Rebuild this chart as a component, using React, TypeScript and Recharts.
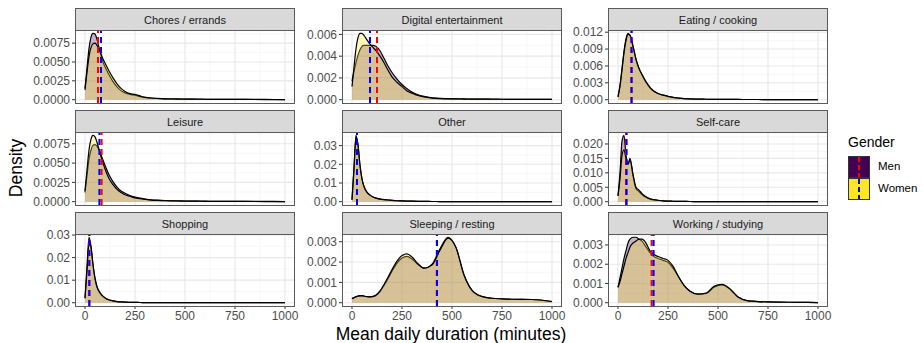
import { ComposedChart, Area, XAxis, YAxis, CartesianGrid, ReferenceLine } from 'recharts';

const categories = [
  'Chores / errands', 'Digital entertainment', 'Eating / cooking',
  'Leisure', 'Other', 'Self-care',
  'Shopping', 'Sleeping / resting', 'Working / studying',
];

// sample points (minutes) the densities were read at
const minutes = [0, 10, 20, 30, 40, 50, 60, 75, 90, 105, 120, 140, 160, 180, 200, 225, 250, 275, 300, 330, 360, 400, 440, 480, 520, 560, 600, 650, 700, 750, 800, 900, 1000];

const choresMen = [0.0015, 0.0042, 0.0068, 0.0083, 0.0088, 0.0087, 0.0080, 0.0064, 0.0050, 0.0041, 0.0033, 0.0024, 0.0017, 0.0012, 0.0009, 0.0007, 0.0006, 0.0004, 0.0003, 0.00022, 0.00017, 0.00012, 0.0001, 0.00009, 0.00008, 0.00007, 0.00006, 0.00005, 0.00004, 0.00004, 0.00003, 0.00003, 0.00002];
const choresWomen = [0.0013, 0.0036, 0.0057, 0.0069, 0.0074, 0.0075, 0.0072, 0.0064, 0.0054, 0.0046, 0.0038, 0.0029, 0.0021, 0.0015, 0.0011, 0.0008, 0.0007, 0.0005, 0.0003, 0.00022, 0.00016, 0.00011, 0.00009, 0.00008, 0.00007, 0.00006, 0.00005, 0.00004, 0.00004, 0.00003, 0.00003, 0.00002, 0.00002];
const digitalMen = [0.0017, 0.0026, 0.0034, 0.0041, 0.0046, 0.0049, 0.0050, 0.0050, 0.0050, 0.0050, 0.0049, 0.0045, 0.0038, 0.0031, 0.0025, 0.0019, 0.0014, 0.0010, 0.0007, 0.00045, 0.0003, 0.00018, 0.00012, 0.0001, 0.00008, 0.00007, 0.00006, 0.00005, 0.00005, 0.00004, 0.00004, 0.00003, 0.00002];
const digitalWomen = [0.0012, 0.0030, 0.0047, 0.0057, 0.0061, 0.0061, 0.0059, 0.0055, 0.0051, 0.0048, 0.0045, 0.0040, 0.0034, 0.0027, 0.0021, 0.0016, 0.0012, 0.0008, 0.0006, 0.00038, 0.00025, 0.00015, 0.0001, 0.00008, 0.00007, 0.00006, 0.00005, 0.00005, 0.00004, 0.00004, 0.00003, 0.00003, 0.00002];
const eatingMen = [0.0005, 0.0025, 0.0055, 0.0086, 0.0108, 0.0118, 0.0114, 0.0094, 0.0071, 0.0055, 0.0044, 0.0031, 0.0021, 0.0015, 0.0011, 0.0008, 0.0006, 0.0004, 0.0003, 0.0002, 0.00015, 0.0001, 0.00008, 0.00006, 0.00005, 0.00004, 0.00004, 0.00003, 0.00003, 0.00002, 0.00002, 0.00002, 0.00001];
const eatingWomen = [0.0005, 0.0024, 0.0053, 0.0083, 0.0105, 0.0116, 0.0115, 0.0096, 0.0072, 0.0056, 0.0045, 0.0032, 0.0022, 0.0015, 0.0011, 0.0008, 0.0006, 0.0004, 0.0003, 0.0002, 0.00015, 0.0001, 0.00008, 0.00006, 0.00005, 0.00004, 0.00004, 0.00003, 0.00003, 0.00002, 0.00002, 0.00002, 0.00001];
const leisureMen = [0.0012, 0.0034, 0.0055, 0.0067, 0.0073, 0.0074, 0.0072, 0.0064, 0.0054, 0.0044, 0.0035, 0.0026, 0.0019, 0.0014, 0.0011, 0.0008, 0.0006, 0.00045, 0.00035, 0.00025, 0.0002, 0.00015, 0.00012, 0.0001, 0.00008, 0.00007, 0.00006, 0.00005, 0.00004, 0.00004, 0.00003, 0.00003, 0.00002];
const leisureWomen = [0.0014, 0.0041, 0.0067, 0.0081, 0.0086, 0.0084, 0.0077, 0.0063, 0.0050, 0.0039, 0.0030, 0.0022, 0.0016, 0.0012, 0.0009, 0.0007, 0.0005, 0.0004, 0.0003, 0.0002, 0.00016, 0.00012, 0.0001, 0.00008, 0.00007, 0.00006, 0.00005, 0.00004, 0.00004, 0.00003, 0.00003, 0.00002, 0.00002];
const otherMen = [0.0010, 0.0180, 0.0355, 0.0300, 0.0190, 0.0120, 0.0080, 0.0050, 0.0035, 0.0025, 0.0019, 0.0014, 0.0011, 0.0009, 0.0007, 0.0005, 0.0004, 0.0003, 0.00025, 0.0002, 0.00015, 0.0001, 0.00008, 0.00007, 0.00006, 0.00005, 0.00004, 0.00004, 0.00003, 0.00003, 0.00002, 0.00002, 0.00001];
const otherWomen = [0.0010, 0.0175, 0.0345, 0.0305, 0.0195, 0.0122, 0.0081, 0.0050, 0.0035, 0.0025, 0.0019, 0.0014, 0.0011, 0.0009, 0.0007, 0.0005, 0.0004, 0.0003, 0.00025, 0.0002, 0.00015, 0.0001, 0.00008, 0.00007, 0.00006, 0.00005, 0.00004, 0.00004, 0.00003, 0.00003, 0.00002, 0.00002, 0.00001];
const selfCareMen = [0.0020, 0.0100, 0.0210, 0.0230, 0.0160, 0.0130, 0.0150, 0.0090, 0.0045, 0.0035, 0.0025, 0.0015, 0.0009, 0.0006, 0.0004, 0.0003, 0.0002, 0.00015, 0.0001, 0.00008, 0.00006, 0.00005, 0.00004, 0.00003, 0.00003, 0.00002, 0.00002, 0.00002, 0.00001, 0.00001, 0.00001, 0.00001, 0.00001];
const selfCareWomen = [0.0020, 0.0080, 0.0160, 0.0180, 0.0150, 0.0130, 0.0145, 0.0095, 0.0050, 0.0040, 0.0028, 0.0017, 0.0010, 0.0007, 0.0005, 0.0003, 0.0002, 0.00015, 0.0001, 0.00008, 0.00006, 0.00005, 0.00004, 0.00003, 0.00003, 0.00002, 0.00002, 0.00002, 0.00001, 0.00001, 0.00001, 0.00001, 0.00001];
const shoppingMen = [0.0020, 0.0160, 0.0290, 0.0250, 0.0165, 0.0105, 0.0068, 0.0042, 0.0027, 0.0018, 0.0012, 0.0008, 0.0005, 0.00035, 0.00025, 0.00018, 0.00013, 0.0001, 0.00008, 0.00006, 0.00005, 0.00004, 0.00003, 0.00003, 0.00002, 0.00002, 0.00002, 0.00001, 0.00001, 0.00001, 0.00001, 0.00001, 0.00001];
const shoppingWomen = [0.0020, 0.0140, 0.0265, 0.0245, 0.0170, 0.0110, 0.0072, 0.0045, 0.0029, 0.0019, 0.0013, 0.0008, 0.0005, 0.00035, 0.00025, 0.00018, 0.00013, 0.0001, 0.00008, 0.00006, 0.00005, 0.00004, 0.00003, 0.00003, 0.00002, 0.00002, 0.00002, 0.00001, 0.00001, 0.00001, 0.00001, 0.00001, 0.00001];
const sleepingMen = [0.00020, 0.00025, 0.00030, 0.00033, 0.00035, 0.00035, 0.00033, 0.00030, 0.00029, 0.00030, 0.00036, 0.00055, 0.00085, 0.00118, 0.00155, 0.00195, 0.00220, 0.00228, 0.00215, 0.00188, 0.00170, 0.00190, 0.00265, 0.00322, 0.00270, 0.00135, 0.00060, 0.00030, 0.00022, 0.00019, 0.00017, 0.00016, 0.00006];
const sleepingWomen = [0.00020, 0.00025, 0.00029, 0.00032, 0.00034, 0.00034, 0.00032, 0.00030, 0.00029, 0.00031, 0.00038, 0.00058, 0.00090, 0.00125, 0.00163, 0.00205, 0.00232, 0.00240, 0.00225, 0.00192, 0.00170, 0.00185, 0.00258, 0.00318, 0.00272, 0.00138, 0.00062, 0.00031, 0.00022, 0.00019, 0.00017, 0.00016, 0.00006];
const workingMen = [0.0008, 0.0013, 0.0018, 0.0023, 0.0027, 0.0031, 0.0033, 0.0034, 0.0034, 0.0033, 0.0032, 0.0029, 0.0026, 0.0024, 0.0023, 0.0022, 0.0021, 0.0018, 0.0014, 0.0009, 0.0006, 0.00045, 0.00048, 0.0008, 0.00092, 0.0007, 0.0003, 0.0001, 0.00006, 0.00004, 0.00003, 0.00002, 0.00001];
const workingWomen = [0.0008, 0.0011, 0.0015, 0.0019, 0.0023, 0.0026, 0.0029, 0.0031, 0.0032, 0.0033, 0.0033, 0.0031, 0.0027, 0.0025, 0.0024, 0.0023, 0.0022, 0.0019, 0.0014, 0.0009, 0.0006, 0.00045, 0.0005, 0.00085, 0.00095, 0.00072, 0.0003, 0.0001, 0.00006, 0.00004, 0.00003, 0.00002, 0.00001];

const menSeries = [choresMen, digitalMen, eatingMen, leisureMen, otherMen, selfCareMen, shoppingMen, sleepingMen, workingMen];
const womenSeries = [choresWomen, digitalWomen, eatingWomen, leisureWomen, otherWomen, selfCareWomen, shoppingWomen, sleepingWomen, workingWomen];

// mean daily duration per category (dashed lines)
const menMeans = [65, 125, 67, 83, 25, 40, 21, 424, 168];
const womenMeans = [80, 90, 68, 72, 25, 43, 22, 425, 178];

const yTickLabels = [
  ['0.0000', '0.0025', '0.0050', '0.0075'],
  ['0.000', '0.002', '0.004', '0.006'],
  ['0.000', '0.003', '0.006', '0.009', '0.012'],
  ['0.0000', '0.0025', '0.0050', '0.0075'],
  ['0.00', '0.01', '0.02', '0.03'],
  ['0.000', '0.005', '0.010', '0.015', '0.020'],
  ['0.00', '0.01', '0.02', '0.03'],
  ['0.000', '0.001', '0.002', '0.003'],
  ['0.000', '0.001', '0.002', '0.003'],
];
const xTicks = [0, 250, 500, 750, 1000];
const xMinor = [125, 375, 625, 875];

const PANEL_LEFT = [75, 342, 608];
const PANEL_TOP = [30, 132, 234];
const PANEL_W = 220;
const PAD = 8;
const FONT = '"Liberation Sans", Arial, Helvetica, sans-serif';
const BORDER = '#5a5a5a';

function Panel({ index }: { index: number }) {
  const col = index % 3;
  const row = Math.floor(index / 3);
  const left = PANEL_LEFT[col];
  const top = PANEL_TOP[row];
  const h = row === 2 ? 72 : 73;
  const bottomRow = row === 2;
  const men = menSeries[index];
  const women = womenSeries[index];
  const data = minutes.map((m, i) => ({ minutes: m, men: men[i], women: women[i] }));
  const max = Math.max(...men, ...women);
  const yDomain = [-0.05 * max, 1.05 * max];
  const labels = yTickLabels[index];
  const yTicks = labels.map(Number);
  const step = yTicks[1] - yTicks[0];
  const yMinor = yTicks.map((t) => t + step / 2).filter((v) => v <= yDomain[1]);

  return (
    <>
      <div
        style={{
          position: 'absolute', left, top: top - 22, width: PANEL_W, height: 23,
          boxSizing: 'border-box', background: '#d9d9d9', border: `1px solid ${BORDER}`,
          display: 'flex', alignItems: 'center', justifyContent: 'center',
          fontSize: 11, color: '#1a1a1a',
        }}
      >
        {categories[index]}
      </div>
      <div style={{ position: 'absolute', left: left - 60, top: top - PAD }}>
        <ComposedChart
          width={PANEL_W + 60 + 16}
          height={h + 2 * PAD + (bottomRow ? 22 : 0)}
          data={data}
          margin={{ top: PAD, right: 16, bottom: PAD, left: 0 }}
        >
          <CartesianGrid stroke="#f2f2f2" strokeWidth={0.6} verticalValues={xMinor} horizontalValues={yMinor} />
          <CartesianGrid stroke="#e8e8e8" strokeWidth={1.1} verticalValues={xTicks} horizontalValues={yTicks} />
          <XAxis
            type="number"
            dataKey="minutes"
            domain={[-50, 1050]}
            ticks={xTicks}
            interval={0}
            hide={!bottomRow}
            height={22}
            axisLine={false}
            tickSize={3}
            tickLine={{ stroke: '#333' }}
            tick={{ fontSize: 12, fill: '#4d4d4d' }}
          />
          <YAxis
            type="number"
            domain={yDomain}
            ticks={yTicks}
            interval={0}
            width={60}
            axisLine={false}
            tickSize={3}
            tickLine={{ stroke: '#333' }}
            tick={{ fontSize: 12, fill: '#4d4d4d' }}
            tickFormatter={(v: number) => {
              const k = yTicks.indexOf(v);
              return k >= 0 ? labels[k] : String(v);
            }}
          />
          <Area
            dataKey="men"
            type="monotone"
            fill="#440154"
            fillOpacity={0.3}
            stroke="#000"
            strokeWidth={1.2}
            isAnimationActive={false}
          />
          <Area
            dataKey="women"
            type="monotone"
            fill="#FDE725"
            fillOpacity={0.3}
            stroke="#000"
            strokeWidth={1.2}
            isAnimationActive={false}
          />
          <ReferenceLine x={menMeans[index]} stroke="#ff0000" strokeWidth={2} strokeDasharray="6 4" />
          <ReferenceLine x={womenMeans[index]} stroke="#0000ff" strokeWidth={2} strokeDasharray="6 4" />
        </ComposedChart>
      </div>
      <div
        style={{
          position: 'absolute', left, top, width: PANEL_W, height: h + 1,
          boxSizing: 'border-box', border: `1px solid ${BORDER}`, pointerEvents: 'none',
        }}
      />
    </>
  );
}

function LegendKey({ top, fill, line }: { top: number; fill: string; line: string }) {
  return (
    <div
      style={{
        position: 'absolute', left: 848, top, width: 22, height: 22,
        boxSizing: 'border-box', background: fill, border: '1px solid #333',
      }}
    >
      <svg width={20} height={20} style={{ position: 'absolute', left: 0, top: 0 }}>
        <line x1={10} y1={0} x2={10} y2={20} stroke={line} strokeWidth={2} strokeDasharray="5 3" />
      </svg>
    </div>
  );
}

export default function App() {
  return (
    <div
      style={{
        position: 'absolute', left: 0, top: 0, width: 923, height: 343,
        background: '#fff', fontFamily: FONT, overflow: 'hidden',
      }}
    >
      {categories.map((_, i) => (
        <Panel key={i} index={i} />
      ))}
      <div
        style={{
          position: 'absolute', left: 16, top: 168, fontSize: 17.5, color: '#000',
          transform: 'translate(-50%, -50%) rotate(-90deg)', whiteSpace: 'nowrap',
        }}
      >
        Density
      </div>
      <div
        style={{
          position: 'absolute', left: 451, top: 334, fontSize: 17.5, color: '#000',
          transform: 'translate(-50%, -50%)', whiteSpace: 'nowrap',
        }}
      >
        Mean daily duration (minutes)
      </div>
      <div style={{ position: 'absolute', left: 848, top: 134, fontSize: 14, color: '#000' }}>Gender</div>
      <LegendKey top={156} fill="#440154" line="#ff0000" />
      <LegendKey top={178} fill="#FDE725" line="#0000ff" />
      <div style={{ position: 'absolute', left: 878, top: 160, fontSize: 11.5, color: '#000' }}>Men</div>
      <div style={{ position: 'absolute', left: 878, top: 182, fontSize: 11.5, color: '#000' }}>Women</div>
    </div>
  );
}
